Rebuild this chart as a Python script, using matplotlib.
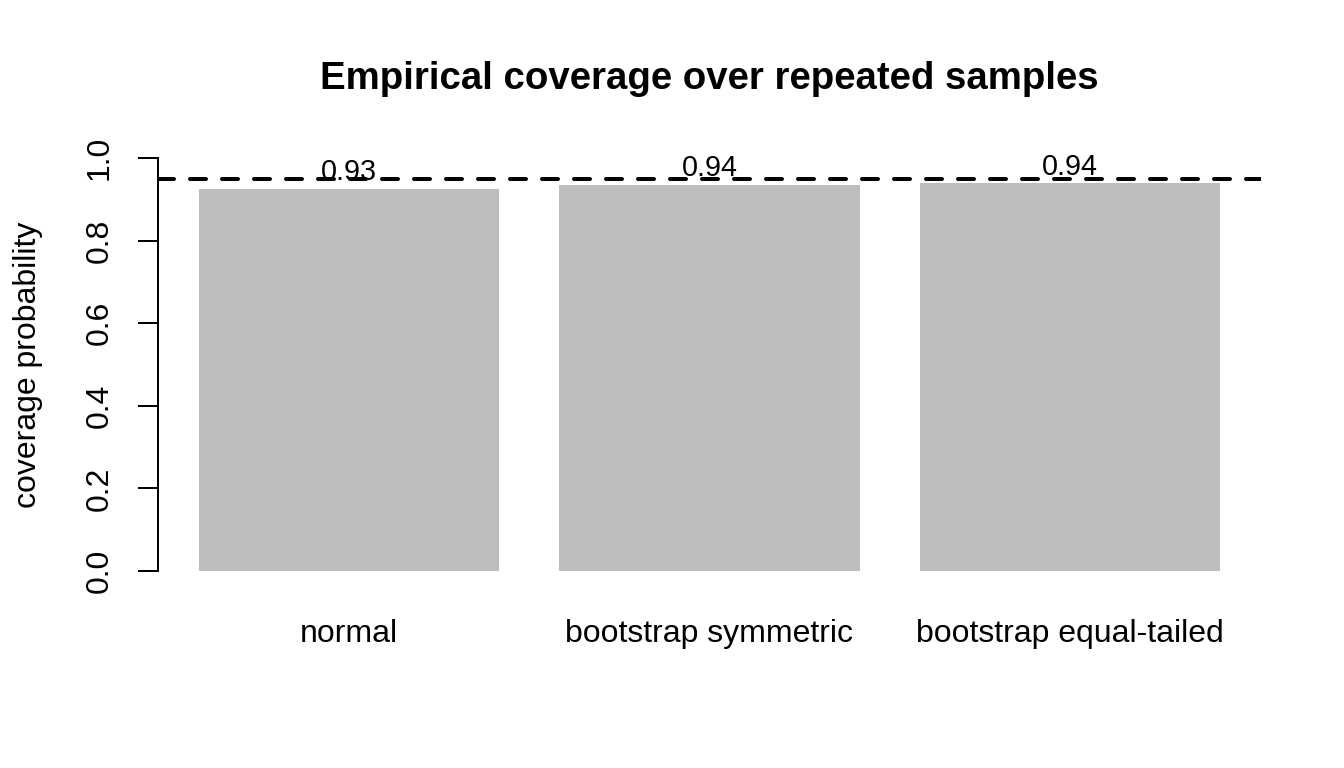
import matplotlib
matplotlib.use("Agg")
import matplotlib.pyplot as plt
import matplotlib.transforms as mtransforms

methods = ["normal", "bootstrap symmetric", "bootstrap equal-tailed"]
coverage = [0.926, 0.935, 0.939]
labels = ["0.93", "0.94", "0.94"]
nominal = 0.95
yticks = [0.0, 0.2, 0.4, 0.6, 0.8, 1.0]
ytick_labels = ["0.0", "0.2", "0.4", "0.6", "0.8", "1.0"]

plt.rcParams['font.family'] = ['Liberation Sans', 'DejaVu Sans']

W, H = 1344, 768
fig = plt.figure(figsize=(7, 4), dpi=192)
left, right, top, bottom = 158, 1261, 141.5, 587.5
ax = fig.add_axes([left / W, 1 - bottom / H, (right - left) / W, (bottom - top) / H])

width = 1.0
space = 0.2
xs = [space + width / 2 + i * (width + space) for i in range(len(methods))]
ax.bar(xs, coverage, width=width, color="#BEBEBE", edgecolor="none")

x_lo = space
x_hi = xs[-1] + width / 2
ext = (x_hi - x_lo) * 0.04
ax.set_xlim(x_lo - ext, x_hi + ext)
ax.set_ylim(-0.04, 1.04)

ax.axhline(nominal, color="black", linewidth=1.5, dashes=(4, 4),
           dash_capstyle="round")

for x, v, lab in zip(xs, coverage, labels):
    ax.text(x, v + 0.04, lab, ha="center", va="center", fontsize=10.8)

for s in ["top", "right", "bottom"]:
    ax.spines[s].set_visible(False)
ax.spines["left"].set_bounds(0, 1)
ax.spines["left"].set_linewidth(0.75)

ax.set_yticks(yticks)
ax.set_yticklabels(ytick_labels, rotation=90, ha="center", va="center", fontsize=12)
ax.tick_params(axis="y", length=7.5, width=0.75, pad=14.25)

ax.set_xticks([])
trans = mtransforms.blended_transform_factory(ax.transData, ax.transAxes)
for x, m in zip(xs, methods):
    ax.text(x, (bottom - 642) / (bottom - top), m, transform=trans,
            ha="center", va="baseline", fontsize=12)

fig.text(0.5 * (left + right) / W, 1 - 89.3 / H,
         "Empirical coverage over repeated samples",
         ha="center", va="baseline", fontsize=14.4, fontweight="bold")
fig.text(28 / W, 1 - 364.5 / H, "coverage probability", rotation=90,
         ha="center", va="center", fontsize=12)

fig.savefig("out.png", dpi=192)
